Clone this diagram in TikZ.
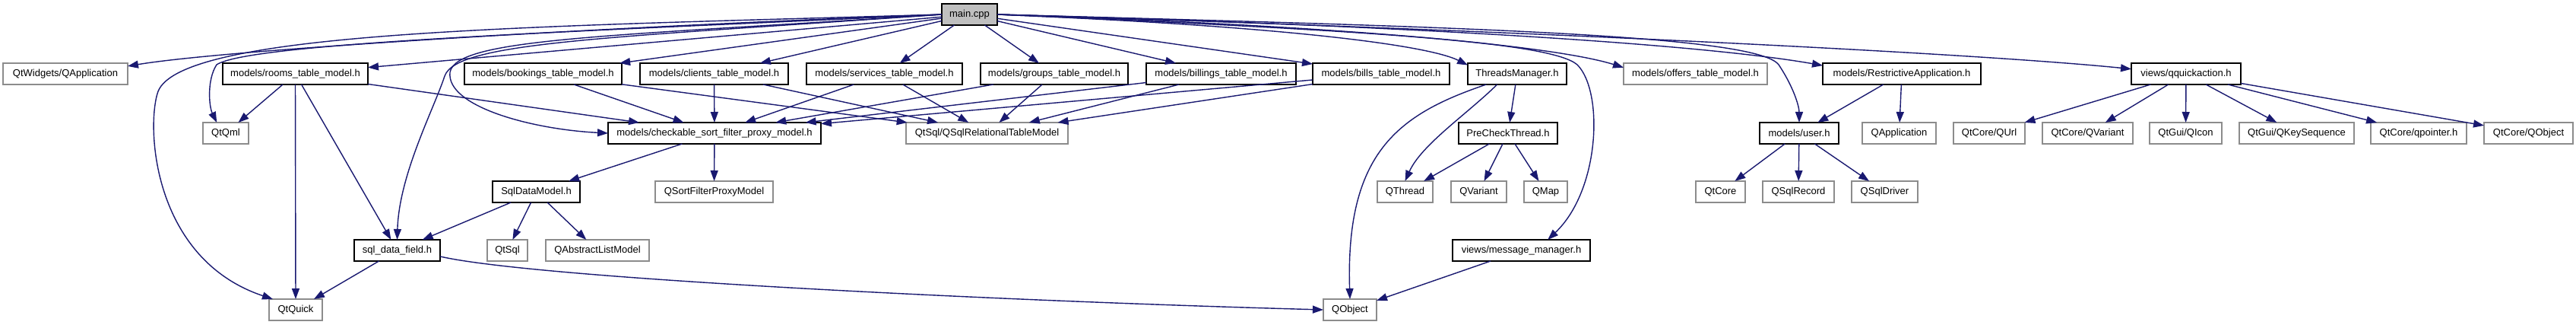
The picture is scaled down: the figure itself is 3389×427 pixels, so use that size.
\documentclass[tikz,border=0pt]{standalone}
\usepackage{fontspec}
\setmainfont{Liberation Sans}
\usetikzlibrary{arrows.meta}
\definecolor{edgeblue}{HTML}{191970}
\definecolor{extgray}{HTML}{8C8C8C}
\definecolor{mainfill}{HTML}{BFBFBF}
\begin{document}
\begin{tikzpicture}[x=0.5pt,y=-0.5pt,
  box/.style={rectangle, minimum height=14pt, inner sep=0pt, outer sep=0pt, fill=white,
    font=\fontsize{6.5}{7}\selectfont},
  doc/.style={box, draw=black, line width=0.9pt},
  ext/.style={box, draw=extgray, line width=0.8pt},
  lnk/.style={draw=edgeblue, line width=0.7pt, -{Triangle[length=7pt,width=5pt]}}]
\useasboundingbox (0,0) rectangle (3389,427);
% level 0
\node[doc, fill=mainfill, minimum width=36.5pt] (main) at (1275.5,19) {main.cpp};
% level 1
\node[ext, minimum width=82pt] (qw) at (86,97) {QtWidgets/QApplication};
\node[doc, minimum width=95.5pt] (rooms) at (388.5,97) {models/rooms\_table\_model.h};
\node[doc, minimum width=103.5pt] (bookings) at (714.5,97) {models/bookings\_table\_model.h};
\node[doc, minimum width=97.5pt] (clients) at (939.5,97) {models/clients\_table\_model.h};
\node[doc, minimum width=102.5pt] (services) at (1163.5,97) {models/services\_table\_model.h};
\node[doc, minimum width=97pt] (groups) at (1387,97) {models/groups\_table\_model.h};
\node[doc, minimum width=98.5pt] (billings) at (1606.5,97) {models/billings\_table\_model.h};
\node[doc, minimum width=90pt] (bills) at (1817,97) {models/bills\_table\_model.h};
\node[doc, minimum width=65pt] (threads) at (1996,97) {ThreadsManager.h};
\node[ext, minimum width=94.5pt] (offers) at (2230.5,97) {models/offers\_table\_model.h};
\node[doc, minimum width=104pt] (restr) at (2502,97) {models/RestrictiveApplication.h};
\node[doc, minimum width=72pt] (qqa) at (2876,97) {views/qquickaction.h};
% level 2
\node[ext, minimum width=30pt] (qtqml) at (297,175) {QtQml};
\node[doc, minimum width=140pt] (check) at (940,175) {models/checkable\_sort\_filter\_proxy\_model.h};
\node[ext, minimum width=106.5pt] (qsqlrel) at (1298.5,175) {QtSql/QSqlRelationalTableModel};
\node[doc, minimum width=65pt] (precheck) at (1984,175) {PreCheckThread.h};
\node[doc, minimum width=52pt] (user) at (2367,175) {models/user.h};
\node[ext, minimum width=48.5pt] (qapp) at (2498.5,175) {QApplication};
\node[ext, minimum width=47pt] (qurl) at (2617,175) {QtCore/QUrl};
\node[ext, minimum width=59.5pt] (qcvar) at (2746.5,175) {QtCore/QVariant};
\node[ext, minimum width=47.5pt] (qicon) at (2875.5,175) {QtGui/QIcon};
\node[ext, minimum width=75.5pt] (qkey) at (3021.5,175) {QtGui/QKeySequence};
\node[ext, minimum width=63pt] (qptr) at (3182,175) {QtCore/qpointer.h};
\node[ext, minimum width=58.5pt] (qcobj) at (3326.5,175) {QtCore/QObject};
% level 3
\node[doc, minimum width=57.5pt] (sqldm) at (705.5,252) {SqlDataModel.h};
\node[ext, minimum width=77.5pt] (qsfpm) at (939.5,252) {QSortFilterProxyModel};
\node[ext, minimum width=36.5pt] (qthread) at (1848.5,252) {QThread};
\node[ext, minimum width=36.5pt] (qvar) at (1945.5,252) {QVariant};
\node[ext, minimum width=28.5pt] (qmap) at (2033.5,252) {QMap};
\node[ext, minimum width=32.5pt] (qtcore) at (2263.5,252) {QtCore};
\node[ext, minimum width=47pt] (qrec) at (2366,252) {QSqlRecord};
\node[ext, minimum width=43.5pt] (qdrv) at (2479.5,252) {QSqlDriver};
% level 4
\node[doc, minimum width=56.5pt] (sqlf) at (522.5,329) {sql\_data\_field.h};
\node[ext, minimum width=26.5pt] (qtsql) at (667.5,329) {QtSql};
\node[ext, minimum width=68pt] (qalm) at (786,329) {QAbstractListModel};
\node[doc, minimum width=90.5pt] (msg) at (2001.5,329) {views/message\_manager.h};
% level 5
\node[ext, minimum width=35pt] (qtquick) at (389,407) {QtQuick};
\node[ext, minimum width=35pt] (qobj) at (1776,407) {QObject};

% edges from main
\draw[lnk] (main.west) .. controls (800,35) and (300,65) .. (qw.7);
\draw[lnk] (main) -- (rooms);
\draw[lnk] (main) -- (bookings);
\draw[lnk] (main) -- (clients);
\draw[lnk] (main) -- (services);
\draw[lnk] (main) -- (groups);
\draw[lnk] (main) -- (billings);
\draw[lnk] (main) -- (bills);
\draw[lnk] (main.east) .. controls (1700,35) and (1880,60) .. (threads.170);
\draw[lnk] (main.east) .. controls (1800,35) and (2050,62) .. (offers.175);
\draw[lnk] (main.east) .. controls (1900,35) and (2250,60) .. (restr.174);
\draw[lnk] (main.east) .. controls (2000,40) and (2600,70) .. (qqa.175);
\draw[lnk] (main.west) .. controls (800,40) and (330,55) .. (285,85) .. controls (272,105) and (275,140) .. (qtqml.130);
\draw[lnk] (main.west) .. controls (700,35) and (240,40) .. (208,120) .. controls (192,165) and (200,340) .. (qtquick.155);
\draw[lnk] (main.west) .. controls (800,50) and (600,55) .. (585,100) .. controls (570,145) and (525,230) .. (sqlf.north);
\draw[lnk] (main.west) .. controls (800,48) and (600,50) .. (592,95) .. controls (587,140) and (700,170) .. (check.west);
\draw[lnk] (main.east) .. controls (1900,35) and (2310,45) .. (2340,85) .. controls (2360,115) and (2367,140) .. (user.north);
\draw[lnk] (main.east) .. controls (1800,40) and (2040,55) .. (2075,85) .. controls (2110,120) and (2105,250) .. (msg.22);

% rooms
\draw[lnk] (rooms) -- (check);
\draw[lnk] (rooms) -- (qtqml);
\draw[lnk] (rooms) -- (qtquick);
\draw[lnk] (rooms) -- (sqlf);
% table models
\draw[lnk] (bookings) -- (check);
\draw[lnk] (bookings) -- (qsqlrel);
\draw[lnk] (clients) -- (check);
\draw[lnk] (clients) -- (qsqlrel);
\draw[lnk] (services) -- (check);
\draw[lnk] (services) -- (qsqlrel);
\draw[lnk] (groups) -- (check);
\draw[lnk] (groups) -- (qsqlrel);
\draw[lnk] (billings) -- (check);
\draw[lnk] (billings) -- (qsqlrel);
\draw[lnk] (bills) -- (check);
\draw[lnk] (bills) -- (qsqlrel);
% checkable
\draw[lnk] (check) -- (sqldm);
\draw[lnk] (check) -- (qsfpm);
% SqlDataModel
\draw[lnk] (sqldm) -- (sqlf);
\draw[lnk] (sqldm) -- (qtsql);
\draw[lnk] (sqldm) -- (qalm);
% sql_data_field
\draw[lnk] (sqlf) -- (qtquick);
\draw[lnk] (sqlf.-8) .. controls (700,365) and (1300,395) .. (qobj.west);
% threads
\draw[lnk] (threads) -- (precheck);
\draw[lnk] (threads.208) .. controls (1930,150) and (1870,190) .. (qthread.north);
\draw[lnk] (threads.199) .. controls (1840,150) and (1770,200) .. (qobj.north);
\draw[lnk] (precheck) -- (qthread);
\draw[lnk] (precheck) -- (qvar);
\draw[lnk] (precheck) -- (qmap);
\draw[lnk] (msg) -- (qobj);
% restrictive / user
\draw[lnk] (restr) -- (user);
\draw[lnk] (restr) -- (qapp);
\draw[lnk] (user) -- (qtcore);
\draw[lnk] (user) -- (qrec);
\draw[lnk] (user) -- (qdrv);
% qquickaction
\draw[lnk] (qqa) -- (qurl);
\draw[lnk] (qqa) -- (qcvar);
\draw[lnk] (qqa) -- (qicon);
\draw[lnk] (qqa) -- (qkey);
\draw[lnk] (qqa) -- (qptr);
\draw[lnk] (qqa) -- (qcobj);
\end{tikzpicture}
\end{document}
